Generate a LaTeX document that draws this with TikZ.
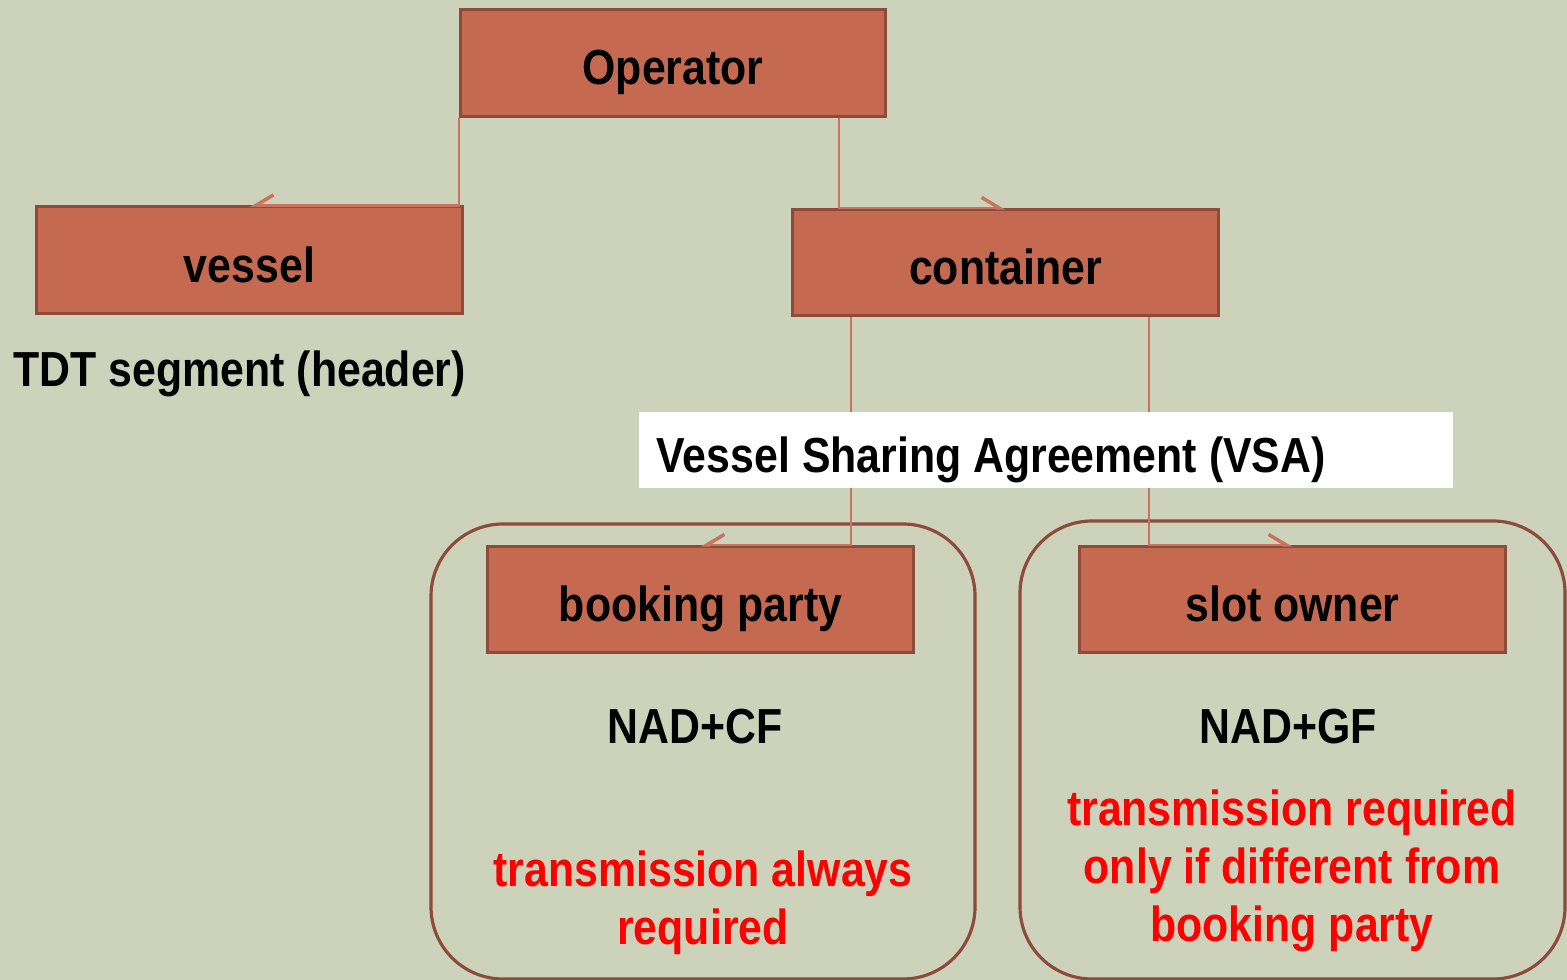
\documentclass[tikz,border=0pt]{standalone}
\usepackage{fontspec}
\setmainfont[FakeStretch=0.87]{Liberation Sans}
\usetikzlibrary{arrows.meta,positioning,calc}
\definecolor{vsabg}{RGB}{205,211,186}
\definecolor{vsabox}{RGB}{197,106,80}
\definecolor{vsaedge}{RGB}{142,74,58}
\definecolor{vsaline}{RGB}{202,116,94}
\definecolor{vsared}{RGB}{255,0,0}

\begin{document}
\begin{tikzpicture}[x=0.01cm,y=-0.01cm,
  box/.style={rectangle,draw=vsaedge,line width=0.85pt,fill=vsabox,minimum width=4.25cm,minimum height=1.06cm,inner sep=0pt,text height=0.5cm,text depth=0.06cm,font=\fontsize{14}{16.5}\selectfont\bfseries},
  lbl/.style={font=\fontsize{14}{16.5}\selectfont\bfseries,inner sep=0pt},
  note/.style={font=\fontsize{14}{16.5}\selectfont\bfseries,text=vsared,align=center,inner sep=0pt},
  panel/.style={draw=vsaedge,line width=0.9pt,rounded corners=0.72cm},
  link/.style={draw=vsaline,line width=0.6pt,-{Straight Barb[harpoon,length=5pt,width=6pt,line width=1pt]}},
  linkl/.style={link,-{Straight Barb[harpoon,swap,length=5pt,width=6pt,line width=1pt]}}]
\useasboundingbox (0,0) rectangle (1567,980);
\clip (0,0) rectangle (1567,980);
\fill[vsabg] (0,0) rectangle (1567,980);

% the two VSA parties
\draw[panel] (431,524) rectangle (975,979);
\draw[panel] (1020,521) rectangle (1565,979);

\node[box] (operator) at (673,63) {Operator};
\node[box] (vessel) at (249.5,260) {vessel};
\node[box] (container) at (1005.5,262.5) {container};
\node[box] (booking) at (700.5,599.5) {booking party};
\node[box] (slot) at (1292.5,599.5) {slot owner};

\node[lbl,anchor=west] (tdt) at (13,374) {TDT segment (header)};
\node[lbl] (cf) at (695,727) {NAD+CF};
\node[lbl] (gf) at (1288,727) {NAD+GF};
\node[note] (always) at (703,903) {transmission always\\required};
\node[note] (ifdiff) at (1292,871) {transmission required\\only if different from\\booking party};

% elbow connectors
\path[linkl] (operator.south west) |- (vessel.north);
\path[link] ($(operator.south)+(166,0)$) |- (container.north);
\path[linkl] ($(container.south west)+(60,0)$) |- (booking.north);
\path[link] ($(container.south)+(143.5,0)$) |- (slot.north);

\node[fill=white,minimum width=8.14cm,minimum height=0.76cm,inner xsep=0.18cm,inner ysep=0pt,text width=7.78cm,text height=0.5cm,text depth=0.06cm,align=flush left,font=\fontsize{14}{16.5}\selectfont\bfseries] (vsa) at (1046,450) {Vessel Sharing Agreement (VSA)};
\end{tikzpicture}
\end{document}
